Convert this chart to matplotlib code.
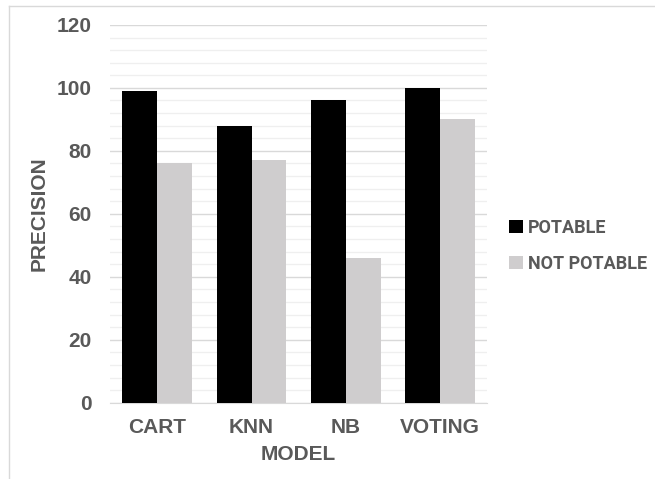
import numpy as np
import matplotlib.pyplot as plt
from matplotlib.lines import Line2D
from matplotlib.ticker import MultipleLocator

models = ['CART', 'KNN', 'NB', 'VOTING']
potable = [99, 88, 96, 100]
not_potable = [76, 77, 46, 90]

text_grey = '#595959'
plt.rcParams['font.family'] = ['Liberation Sans', 'DejaVu Sans']
plt.rcParams['font.weight'] = 'bold'

fig = plt.figure(figsize=(6.55, 4.79), dpi=100)
ax = fig.add_axes([0.168, 0.159, 0.576, 0.789])

x = np.arange(len(models))
width = 0.37
ax.bar(x - width / 2, potable, width, color='black', label='POTABLE', zorder=3)
ax.bar(x + width / 2, not_potable, width, color='#cfcdce', label='NOT POTABLE', zorder=3)

ax.set_xlim(-0.5, len(models) - 0.5)
ax.set_ylim(0, 120)
ax.yaxis.set_major_locator(MultipleLocator(20))
ax.yaxis.set_minor_locator(MultipleLocator(4))
ax.grid(axis='y', which='major', color='#d9d9d9', linewidth=1.0, zorder=0)
ax.grid(axis='y', which='minor', color='#efefef', linewidth=0.9, zorder=0)

for side in ['top', 'right', 'left']:
    ax.spines[side].set_visible(False)
ax.spines['bottom'].set_color('#d9d9d9')
ax.tick_params(axis='both', which='both', length=0)
ax.tick_params(axis='y', pad=13)
ax.tick_params(axis='x', pad=11)

ax.set_xticks(x)
ax.set_xticklabels(models, fontsize=15, fontweight='bold', color=text_grey)
for lab in ax.get_yticklabels():
    lab.set_fontsize(15)
    lab.set_fontweight('bold')
    lab.set_color(text_grey)

ax.set_xlabel('MODEL', fontsize=15, fontweight='bold', color=text_grey, labelpad=6)
ax.set_ylabel('PRECISION', fontsize=15, fontweight='bold', color=text_grey, labelpad=6)

fig.legend(loc='center left', bbox_to_anchor=(0.753, 0.487), frameon=False,
           handlelength=0.74, handleheight=0.74, handletextpad=0.3, labelspacing=1.0,
           prop={'family': 'Roboto', 'size': 13, 'weight': 'bold'}, labelcolor=text_grey)

# thin frame along the top and left edges
fig.add_artist(Line2D([9 / 655, 9 / 655], [0, 1 - 6 / 479], transform=fig.transFigure,
                      color='#d9d9d9', linewidth=1.0))
fig.add_artist(Line2D([9 / 655, 1], [1 - 6 / 479, 1 - 6 / 479], transform=fig.transFigure,
                      color='#d9d9d9', linewidth=1.0))

fig.savefig('out.png', dpi=100)
